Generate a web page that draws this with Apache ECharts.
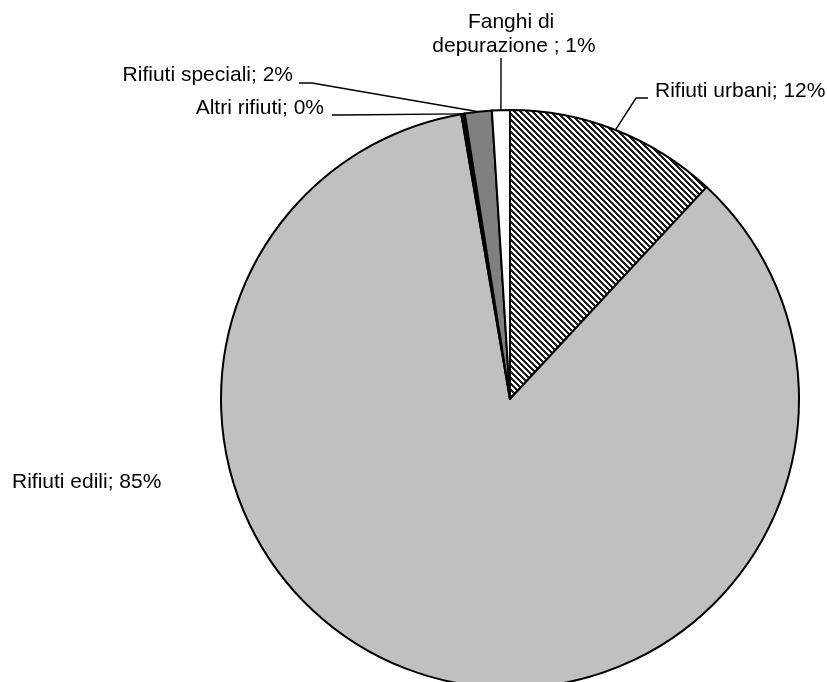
<!DOCTYPE html>
<html><head><meta charset="utf-8">
<script src="https://cdn.jsdelivr.net/npm/echarts@6/dist/echarts.min.js"></script>
<style>html,body{margin:0;padding:0;background:#fff}#c{width:827px;height:682px}</style>
</head><body><div id="c"></div>
<script>
// ---- data ----
const categories = ['Rifiuti urbani', 'Rifiuti edili', 'Altri rifiuti', 'Rifiuti speciali', 'Fanghi di depurazione '];
const values = [11.9, 85.4, 0.2, 1.5, 1.0];

// ---- styles / layout ----
function hatch() {
  const n = 6, cv = document.createElement('canvas');
  cv.width = n; cv.height = n;
  const ctx = cv.getContext('2d');
  const img = ctx.createImageData(n, n);
  for (let y = 0; y < n; y++) for (let x = 0; x < n; x++) {
    const k = ((x - y) % n + n) % n;
    const v = k < 3 ? 30 : 255;
    const i = (y * n + x) * 4;
    img.data[i] = img.data[i + 1] = img.data[i + 2] = v; img.data[i + 3] = 255;
  }
  ctx.putImageData(img, 0, 0);
  return cv;
}
const fills = [{ image: hatch(), repeat: 'repeat' }, '#c0c0c0', '#000000', '#808080', '#ffffff'];
const labelPlace = [
  { x: 655, y: 91, align: 'left', line: [[636, 98], [648, 98]] },
  { x: 12, y: 482, align: 'left', line: null },
  { x: 324, y: 108, align: 'right', line: [[340, 115], [332, 115]] },
  { x: 293, y: 75.5, align: 'right', line: [[312, 83], [299, 83]] },
  { x: 514, y: 34.5, align: 'center', line: [[501, 80], [501, 58]] }
];

const chart = echarts.init(document.getElementById('c'), null, { renderer: 'canvas' });
chart.setOption({
  animation: false,
  backgroundColor: '#ffffff',
  series: [{
    type: 'pie',
    center: [510, 399],
    radius: 289,
    startAngle: 90,
    clockwise: true,
    avoidLabelOverlap: false,
    data: categories.map((c, i) => ({
      name: c,
      value: values[i],
      itemStyle: { color: fills[i] },
      label: i === 4 ? { width: 175, overflow: 'break', align: 'center' } : {},
      labelLine: { show: i !== 1 }
    })),
    itemStyle: { borderColor: '#000', borderWidth: 2 },
    label: {
      show: true,
      position: 'outside',
      color: '#000',
      fontFamily: 'Liberation Sans, Arial, sans-serif',
      fontSize: 21,
      lineHeight: 24,
      formatter: p => p.name + '; ' + Math.round(p.percent) + '%'
    },
    labelLine: { show: true, lineStyle: { color: '#000', width: 1.4 } },
    labelLayout: function (params) {
      const L = labelPlace[params.dataIndex];
      const out = { x: L.x, y: L.y, align: L.align, verticalAlign: 'middle' };
      if (L.line && params.labelLinePoints) {
        out.labelLinePoints = [params.labelLinePoints[0]].concat(L.line);
      }
      return out;
    }
  }]
});
</script></body></html>
